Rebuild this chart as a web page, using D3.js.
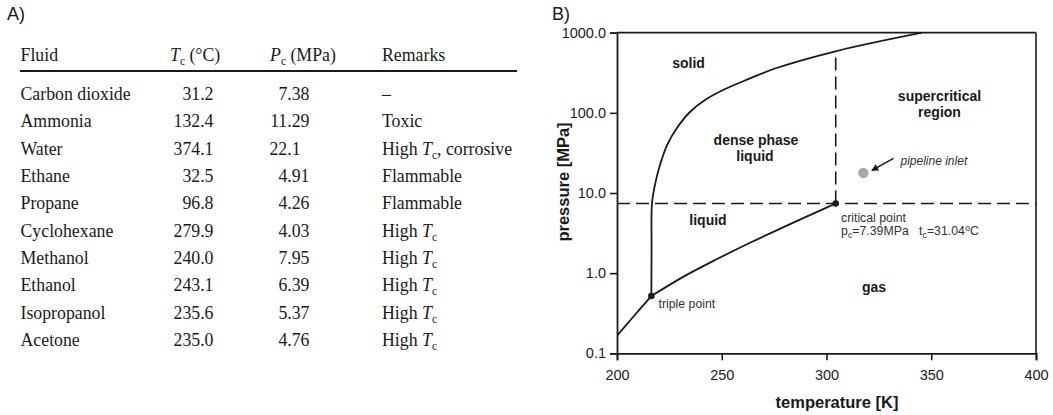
<!DOCTYPE html>
<html>
<head>
<meta charset="utf-8">
<script src="https://cdn.jsdelivr.net/npm/d3@7/dist/d3.min.js"></script>
<style>
  html, body { margin: 0; padding: 0; background: #fff; }
  svg { display: block; }
</style>
</head>
<body>
<svg id="chart" width="1053" height="415"></svg>
<script>
// ---------- Table data (panel A) ----------
const fluids = ["Carbon dioxide", "Ammonia", "Water", "Ethane", "Propane", "Cyclohexane", "Methanol", "Ethanol", "Isopropanol", "Acetone"];
const tcValues = ["31.2", "132.4", "374.1", "32.5", "96.8", "279.9", "240.0", "243.1", "235.6", "235.0"];
const pcValues = ["7.38", "11.29", "22.1", "4.91", "4.26", "4.03", "7.95", "6.39", "5.37", "4.76"];
const remarks = ["–", "Toxic", "High T_c, corrosive", "Flammable", "Flammable", "High T_c", "High T_c", "High T_c", "High T_c", "High T_c"];

// ---------- Phase diagram data (panel B) ----------
const xTicks = [200, 250, 300, 350, 400];
const yTicks = [0.1, 1, 10, 100, 1000];
const sublimationT = [200, 208, 216.4];
const sublimationP = [0.166, 0.29, 0.518];
const boilingT = [216.4, 232, 248, 264, 280, 295.5, 304.4];
const boilingP = [0.518, 0.912, 1.51, 2.43, 3.80, 5.82, 7.39];
const meltT = [216.4, 216.5, 216.7, 218.1, 220.5, 223.9, 228.6, 234.8, 242.0, 251.6, 263.5, 275.4, 304.8, 345.6];
const meltP = [0.518, 2, 7.5, 12.6, 22.3, 39.7, 64.7, 102.5, 144.7, 198.5, 268.6, 357.5, 591, 1000];
const triplePoint = [216.4, 0.518];
const criticalPoint = [304.4, 7.39];
const pipelineInlet = [317.6, 17.8];

const svg = d3.select("#chart");
const ink = "#1a1a1a";

// ---------- Panel labels ----------
svg.append("text").attr("x", 7).attr("y", 20).attr("font-family", "Liberation Sans, Arial, sans-serif")
  .attr("font-size", 18).attr("fill", ink).text("A)");
svg.append("text").attr("x", 552).attr("y", 20).attr("font-family", "Liberation Sans, Arial, sans-serif")
  .attr("font-size", 18).attr("fill", ink).text("B)");

// ---------- Table ----------
const serif = "Liberation Serif, Times New Roman, serif";
const tfs = 17.8;
const tbl = svg.append("g").attr("font-family", serif).attr("font-size", tfs).attr("fill", ink);

// Header
const headY = 60.5;
tbl.append("text").attr("x", 20.5).attr("y", headY).text("Fluid");
{
  const t = tbl.append("text").attr("x", 170).attr("y", headY);
  t.append("tspan").attr("font-style", "italic").text("T");
  t.append("tspan").attr("font-size", 11.5).attr("dy", 4).text("c");
  t.append("tspan").attr("dy", -4).text(" (°C)");
}
{
  const t = tbl.append("text").attr("x", 270).attr("y", headY);
  t.append("tspan").attr("font-style", "italic").text("P");
  t.append("tspan").attr("font-size", 11.5).attr("dy", 4).text("c");
  t.append("tspan").attr("dy", -4).text(" (MPa)");
}
tbl.append("text").attr("x", 382).attr("y", headY).text("Remarks");
tbl.append("line").attr("x1", 20).attr("x2", 517).attr("y1", 71).attr("y2", 71)
  .attr("stroke", ink).attr("stroke-width", 2);

const rowY = d3.scaleLinear().domain([0, 9]).range([100, 346]);
fluids.forEach((f, i) => {
  const y = rowY(i);
  tbl.append("text").attr("x", 20.5).attr("y", y).text(f);
  tbl.append("text").attr("x", 213.5).attr("y", y).attr("text-anchor", "end").text(tcValues[i]);
  const dec = (pcValues[i].split(".")[1] || "").length;
  tbl.append("text").attr("x", 309.5 - (2 - dec) * tfs * 0.5).attr("y", y)
    .attr("text-anchor", "end").text(pcValues[i]);
  const r = remarks[i];
  const t = tbl.append("text").attr("x", 382).attr("y", y);
  if (r.includes("T_c")) {
    const parts = r.split("T_c");
    t.append("tspan").text(parts[0]);
    t.append("tspan").attr("font-style", "italic").text("T");
    t.append("tspan").attr("font-size", 11.5).attr("dy", 4).text("c");
    if (parts[1]) t.append("tspan").attr("dy", -4).text(parts[1]);
  } else {
    t.text(r);
  }
});

// ---------- Phase diagram ----------
const sans = "Liberation Sans, Arial, sans-serif";
const x = d3.scaleLinear().domain([200, 400]).range([617, 1036]);
const y = d3.scaleLog().domain([0.1, 1000]).range([353.3, 32.7]);
const g = svg.append("g").attr("font-family", sans);

g.append("clipPath").attr("id", "plotclip").append("rect")
  .attr("x", 617).attr("y", 32.7).attr("width", 1036 - 617).attr("height", 353.3 - 32.7);

// Axes
const xAxis = d3.axisBottom(x).tickValues(xTicks).tickSizeOuter(0).tickSize(7).tickPadding(9).tickFormat(d3.format("d"));
const yAxis = d3.axisLeft(y).tickValues(yTicks).tickSizeOuter(0).tickSize(7).tickPadding(4).tickFormat(d3.format(".1f"));
const gx = g.append("g").attr("transform", "translate(0,353.3)").call(xAxis);
const gy = g.append("g").attr("transform", "translate(617,0)").call(yAxis);
[gx, gy].forEach(a => {
  a.selectAll("path").attr("stroke", ink).attr("stroke-width", 1.8);
  a.selectAll("line").attr("stroke", ink).attr("stroke-width", 1.6);
  a.selectAll("text").attr("font-family", sans).attr("font-size", 14.5).attr("fill", "#222");
});
// frame top and right
g.append("line").attr("x1", 617).attr("x2", 1036).attr("y1", y(1000)).attr("y2", y(1000)).attr("stroke", ink).attr("stroke-width", 1.8);
g.append("line").attr("x1", 1036).attr("x2", 1036).attr("y1", y(1000)).attr("y2", y(0.1)).attr("stroke", ink).attr("stroke-width", 1.6);

// Axis titles
g.append("text").attr("x", 837).attr("y", 408).attr("text-anchor", "middle")
  .attr("font-weight", "bold").attr("font-size", 16.5).attr("fill", ink).text("temperature [K]");
g.append("text").attr("transform", "translate(569,182) rotate(-90)").attr("text-anchor", "middle")
  .attr("font-weight", "bold").attr("font-size", 16.5).attr("fill", ink).text("pressure [MPa]");

const plot = g.append("g").attr("clip-path", "url(#plotclip)");

// Dashed critical lines
const dash = "13,6";
function meltAt(T) {
  for (let i = 0; i < meltT.length - 1; i++) {
    if (T >= meltT[i] && T <= meltT[i + 1]) {
      const f = (T - meltT[i]) / (meltT[i + 1] - meltT[i]);
      return Math.pow(10, Math.log10(meltP[i]) + f * (Math.log10(meltP[i + 1]) - Math.log10(meltP[i])));
    }
  }
  return 1000;
}
plot.append("line").attr("x1", x(200)).attr("x2", x(400)).attr("y1", y(criticalPoint[1])).attr("y2", y(criticalPoint[1]))
  .attr("stroke", ink).attr("stroke-width", 1.6).attr("stroke-dasharray", dash);
plot.append("line").attr("x1", x(criticalPoint[0])).attr("x2", x(criticalPoint[0]))
  .attr("y1", y(criticalPoint[1])).attr("y2", y(meltAt(criticalPoint[0])))
  .attr("stroke", ink).attr("stroke-width", 1.6).attr("stroke-dasharray", dash);

// Curves
const line = d3.line().x(d => x(d[0])).y(d => y(d[1])).curve(d3.curveCatmullRom.alpha(0.5));
[[sublimationT, sublimationP], [boilingT, boilingP], [meltT, meltP]].forEach(([ts, ps]) => {
  plot.append("path").attr("d", line(ts.map((t, i) => [t, ps[i]])))
    .attr("fill", "none").attr("stroke", ink).attr("stroke-width", 1.8);
});

// Points
plot.append("circle").attr("cx", x(triplePoint[0])).attr("cy", y(triplePoint[1])).attr("r", 3.3).attr("fill", ink);
plot.append("circle").attr("cx", x(criticalPoint[0])).attr("cy", y(criticalPoint[1])).attr("r", 3.3).attr("fill", ink);
plot.append("circle").attr("cx", x(pipelineInlet[0])).attr("cy", y(pipelineInlet[1])).attr("r", 5.2).attr("fill", "#a9a9a9");

// Arrow to pipeline inlet
svg.append("defs").append("marker").attr("id", "ah").attr("viewBox", "0 0 10 10")
  .attr("refX", 9).attr("refY", 5).attr("markerWidth", 9).attr("markerHeight", 7).attr("orient", "auto")
  .attr("markerUnits", "userSpaceOnUse")
  .append("path").attr("d", "M0,0 L10,5 L0,10 Z").attr("fill", ink);
g.append("line").attr("x1", 893.5).attr("y1", 158.3).attr("x2", x(pipelineInlet[0]) + 8.5).attr("y2", y(pipelineInlet[1]) - 2.5)
  .attr("stroke", ink).attr("stroke-width", 1.5).attr("marker-end", "url(#ah)");

// Region labels
function bold(txt, cx, cy) {
  g.append("text").attr("x", cx).attr("y", cy).attr("text-anchor", "middle").attr("dominant-baseline", "central")
    .attr("font-weight", "bold").attr("font-size", 14).attr("fill", ink).text(txt);
}
bold("solid", 688.5, 62.5);
bold("dense phase", 756, 139.5);
bold("liquid", 755, 155.5);
bold("supercritical", 939.5, 96);
bold("region", 939.5, 111.5);
bold("liquid", 708, 220);
bold("gas", 874, 286.5);

// Annotations
g.append("text").attr("x", 900.5).attr("y", 161).attr("dominant-baseline", "central")
  .attr("font-style", "italic").attr("font-size", 12).attr("fill", "#333").text("pipeline inlet");
g.append("text").attr("x", 658.5).attr("y", 303.5).attr("dominant-baseline", "central")
  .attr("font-size", 12.3).attr("fill", "#333").text("triple point");
g.append("text").attr("x", 841).attr("y", 217.5).attr("dominant-baseline", "central")
  .attr("font-size", 12.3).attr("fill", "#333").text("critical point");
{
  const t = g.append("text").attr("x", 841).attr("y", 234.5).attr("font-size", 12.3).attr("fill", "#333")
    .attr("xml:space", "preserve").style("white-space", "pre");
  t.append("tspan").text("p");
  t.append("tspan").attr("font-size", 9).attr("dy", 3).text("c");
  t.append("tspan").attr("dy", -3).text("=7.39MPa   t");
  t.append("tspan").attr("font-size", 9).attr("dy", 3).text("c");
  t.append("tspan").attr("dy", -3).text("=31.04");
  t.append("tspan").attr("font-size", 9).attr("dy", -4).text("o");
  t.append("tspan").attr("dy", 4).text("C");
}
</script>
</body>
</html>
